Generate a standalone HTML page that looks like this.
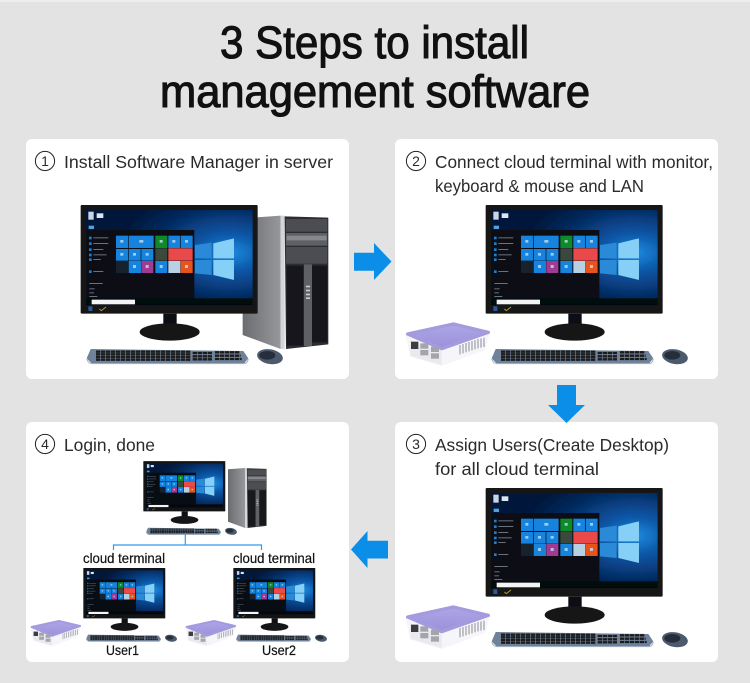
<!DOCTYPE html>
<html lang="en">
<head>
<meta charset="utf-8">
<title>3 Steps to install management software</title>
<style>
html,body{margin:0;padding:0;background:#e3e3e3}
svg{display:block}
text{font-family:"Liberation Sans",sans-serif;fill:#2a2a2a}
.t{font-size:45px;fill:#111;stroke:#111;stroke-width:1.1px}
.l{font-size:17.5px}
.n{font-size:14px;text-anchor:middle}
.s{font-size:14px;fill:#111;stroke:#111;stroke-width:.2px}
</style>
</head>
<body>
<svg xmlns="http://www.w3.org/2000/svg" width="750" height="683" viewBox="0 0 750 683">
<defs>
<filter id="soft" x="-5%" y="-5%" width="110%" height="110%"><feGaussianBlur stdDeviation="1"/></filter>
<radialGradient id="sky" cx="86%" cy="45%" r="68%">
<stop offset="0" stop-color="#1f8ce0"/><stop offset=".3" stop-color="#0a56a6"/><stop offset=".7" stop-color="#052a60"/><stop offset="1" stop-color="#03173a"/>
</radialGradient>
<linearGradient id="side" x1="0" x2="1" y1="0" y2="0"><stop offset="0" stop-color="#6a6c70"/><stop offset="1" stop-color="#96989b"/></linearGradient>
<linearGradient id="lid" x1="0" x2="0" y1="0" y2="1"><stop offset="0" stop-color="#aea6e6"/><stop offset="1" stop-color="#9a91da"/></linearGradient>

<g id="pc">
<rect x="32" y="30" width="531" height="326" rx="3" fill="#131416"/>
<rect x="48" y="45" width="500" height="285" fill="url(#sky)"/>
<polygon points="375,150 425,143 425,190 375,190" fill="#2a8ad8"/>
<polygon points="430,145 492,130 492,190 430,190" fill="#86cff6"/>
<polygon points="375,195 425,195 425,240 375,235" fill="#2a8ad8"/>
<polygon points="430,195 492,195 492,255 430,240" fill="#86cff6"/>
<rect x="48" y="105" width="325" height="205" fill="#080c13"/>
<rect x="48" y="310" width="500" height="20" fill="#05070b"/>
<rect x="65" y="314" width="130" height="14" fill="#f4f4f4"/>
<rect x="55" y="50" width="16" height="24" fill="#c9d6e6"/>
<rect x="80" y="55" width="20" height="14" fill="#dbe6f0"/>
<rect x="56" y="92" width="16" height="10" fill="#4fa3dc"/>
<g fill="#1f7fd0"><rect x="57" y="125" width="8" height="8"/><rect x="57" y="142" width="8" height="8"/><rect x="57" y="160" width="8" height="8"/><rect x="57" y="176" width="8" height="8"/><rect x="57" y="190" width="8" height="8"/><rect x="57" y="226" width="8" height="8"/></g>
<g fill="#6b727b"><rect x="70" y="127" width="45" height="3"/><rect x="70" y="144" width="45" height="3"/><rect x="70" y="162" width="30" height="3"/><rect x="70" y="178" width="40" height="3"/><rect x="70" y="192" width="22" height="3"/><rect x="70" y="228" width="30" height="3"/><rect x="58" y="264" width="40" height="3"/><rect x="58" y="280" width="16" height="3"/><rect x="58" y="292" width="14" height="3"/><rect x="58" y="303" width="24" height="3"/></g>
<g fill="#1283de">
<rect x="138" y="122" width="36" height="37"/><rect x="176" y="122" width="75" height="37"/>
<rect x="138" y="162" width="36" height="35"/><rect x="176" y="162" width="36" height="35"/><rect x="214" y="162" width="36" height="35"/>
<rect x="176" y="198" width="37" height="36"/>
<rect x="295" y="122" width="35" height="37"/><rect x="332" y="122" width="36" height="37"/>
<rect x="256" y="198" width="36" height="36"/>
</g>
<rect x="138" y="198" width="36" height="36" fill="#16222f"/>
<rect x="214" y="198" width="36" height="36" fill="#a03a92"/>
<rect x="256" y="122" width="36" height="37" fill="#0f8a2a"/>
<rect x="256" y="160" width="36" height="37" fill="#3b4a3c"/>
<rect x="295" y="160" width="73" height="37" fill="#ea4a4a"/>
<rect x="295" y="198" width="36" height="36" fill="#b8d0e4"/>
<rect x="332" y="198" width="36" height="36" fill="#e8521c"/>
<g fill="#cfe6f7" opacity=".75"><rect x="151" y="135" width="9" height="8"/><rect x="208" y="135" width="12" height="8"/><rect x="151" y="174" width="9" height="8"/><rect x="189" y="174" width="9" height="8"/><rect x="227" y="174" width="9" height="8"/><rect x="189" y="210" width="9" height="9"/><rect x="227" y="210" width="9" height="9"/><rect x="269" y="135" width="9" height="8"/><rect x="307" y="135" width="9" height="8"/><rect x="345" y="135" width="9" height="8"/><rect x="269" y="210" width="9" height="9"/><rect x="345" y="210" width="9" height="9"/></g>
<rect x="55" y="334" width="12" height="14" fill="#2c5a9a"/><path d="M88 342l6 5 14-11" stroke="#b39a2a" stroke-width="3" fill="none"/>
<rect x="280" y="356" width="40" height="44" fill="#0f1012"/>
<ellipse cx="299" cy="411" rx="90" ry="26" fill="#141517"/>
<polygon points="62,462 520,468 535,490 522,506 65,506 50,490" fill="#6f8299"/>
<g fill="none" stroke="#1a1c1f" stroke-width="7" stroke-dasharray="13 2">
<path d="M78 470H363M78 478H363M78 486H363M78 494H363"/>
<path d="M368 474H428M368 484H428M368 493H428"/>
<path d="M435 472H510M435 482H512M435 492H515"/>
</g>
<path d="M50 492q5 14 16 14h456q10 0 13-14" fill="none" stroke="#a5b5c8" stroke-width="3"/>
<ellipse cx="600" cy="485" rx="39" ry="22" fill="#4b5a6c" transform="rotate(10 600 485)"/>
<ellipse cx="592" cy="481" rx="24" ry="13" fill="#262f3b"/>
</g>

<g id="tower">
<polygon points="518,70 632,62 632,462 518,420" fill="url(#side)"/>
<rect x="632" y="62" width="12" height="400" fill="#d4d5d7"/>
<polygon points="644,64 775,68 775,448 648,462" fill="#2c2d30"/>
<rect x="648" y="72" width="124" height="38" fill="#4c4e52"/>
<rect x="648" y="114" width="124" height="38" fill="#5f6165"/>
<rect x="650" y="122" width="120" height="14" fill="#85878b"/>
<rect x="648" y="156" width="124" height="50" fill="#4c4e52"/>
<rect x="650" y="212" width="50" height="240" fill="#18191b"/>
<rect x="726" y="212" width="46" height="230" fill="#18191b"/>
<rect x="702" y="208" width="24" height="245" fill="#5f6165"/>
<g fill="#c9cbce"><rect x="708" y="272" width="12" height="5"/><rect x="708" y="284" width="12" height="5"/><rect x="708" y="296" width="12" height="5"/><rect x="708" y="307" width="12" height="5"/></g>
</g>

<g id="box">
<polygon points="32,135 45,200 140,228 270,180 286,128" fill="#f6f6fa"/>
<polygon points="38,132 175,102 280,127 140,176" fill="url(#lid)" stroke="#a49bde" stroke-width="10" stroke-linejoin="round"/>
<polygon points="45,150 140,184 140,225 47,198" fill="#e9e9ef"/>
<rect x="48" y="155" width="22" height="22" fill="#3a3d42"/>
<rect x="76" y="160" width="24" height="16" fill="#a3a5aa"/><rect x="76" y="180" width="24" height="16" fill="#a3a5aa"/>
<rect x="108" y="170" width="24" height="16" fill="#a3a5aa"/><rect x="108" y="190" width="24" height="16" fill="#a3a5aa"/>
<g stroke="#8b8d96" stroke-width="3"><path d="M195 165v28M204 162v28M213 159v28M222 156v28M231 153v28M240 150v28M249 147v28M258 145v28M267 143v28"/></g>
</g>
</defs>

<rect width="750" height="683" fill="#e3e3e3"/>
<rect width="750" height="2" fill="#eeeeee"/>

<text x="220" y="58" class="t" textLength="309" lengthAdjust="spacingAndGlyphs">3 Steps to install</text>
<text x="160" y="107" class="t" textLength="430" lengthAdjust="spacingAndGlyphs">management software</text>

<rect x="26" y="139" width="323" height="240" rx="6" fill="#fff"/>
<rect x="395" y="139" width="323" height="240" rx="6" fill="#fff"/>
<rect x="395" y="422" width="323" height="240" rx="6" fill="#fff"/>
<rect x="26" y="422" width="323" height="240" rx="6" fill="#fff"/>

<!-- Panel 1 -->
<circle cx="45" cy="161" r="9.6" fill="none" stroke="#222" stroke-width="1"/>
<text x="45" y="166" class="n">1</text>
<text x="64" y="168" class="l" textLength="269" lengthAdjust="spacingAndGlyphs">Install Software Manager in server</text>
<g filter="url(#soft)" transform="translate(70,195) scale(.3333)"><use href="#tower"/><use href="#pc"/></g>

<!-- Panel 2 -->
<circle cx="416" cy="161" r="9.6" fill="none" stroke="#222" stroke-width="1"/>
<text x="416" y="166" class="n">2</text>
<text x="435" y="168" class="l" textLength="278" lengthAdjust="spacingAndGlyphs">Connect cloud terminal with monitor,</text>
<text x="435" y="192" class="l" textLength="209" lengthAdjust="spacingAndGlyphs">keyboard &amp; mouse and LAN</text>
<g filter="url(#soft)" transform="translate(475,195) scale(.3333)"><use href="#pc"/></g>
<g filter="url(#soft)" transform="translate(395,290) scale(.3333)"><use href="#box"/></g>

<!-- Panel 3 -->
<circle cx="416" cy="444" r="9.6" fill="none" stroke="#222" stroke-width="1"/>
<text x="416" y="449" class="n">3</text>
<text x="435" y="451" class="l" textLength="234" lengthAdjust="spacingAndGlyphs">Assign Users(Create Desktop)</text>
<text x="435" y="475" class="l" textLength="164" lengthAdjust="spacingAndGlyphs">for all cloud terminal</text>
<g filter="url(#soft)" transform="translate(475,478) scale(.3333)"><use href="#pc"/></g>
<g filter="url(#soft)" transform="translate(395,573) scale(.3333)"><use href="#box"/></g>

<!-- Panel 4 -->
<circle cx="45" cy="444" r="9.6" fill="none" stroke="#222" stroke-width="1"/>
<text x="45" y="449" class="n">4</text>
<text x="64" y="451" class="l" textLength="91" lengthAdjust="spacingAndGlyphs">Login, done</text>
<use href="#tower" transform="translate(150.3,458.7) scale(.15)"/>
<use href="#pc" transform="translate(138.4,456.5) scale(.1543)"/>
<path d="M185.3 533V545M113.5 550V545H261.5V550" fill="none" stroke="#2f9bf0" stroke-width="1.2"/>
<text x="83" y="563" class="s" textLength="82" lengthAdjust="spacingAndGlyphs">cloud terminal</text>
<text x="233" y="563" class="s" textLength="82" lengthAdjust="spacingAndGlyphs">cloud terminal</text>
<use href="#pc" transform="translate(78.4,563.4) scale(.1543)"/>
<use href="#pc" transform="translate(228.4,563.4) scale(.1543)"/>
<use href="#box" transform="translate(24,600.6) scale(.2)"/>
<use href="#box" transform="translate(179,600.6) scale(.2)"/>
<text x="106" y="655" class="s" textLength="33" lengthAdjust="spacingAndGlyphs">User1</text>
<text x="262" y="655" class="s" textLength="34" lengthAdjust="spacingAndGlyphs">User2</text>

<!-- Arrows -->
<polygon points="354,252.7 374,252.7 374,243 391.5,261.5 374,280 374,270.7 354,270.7" fill="#0a8ee8"/>
<polygon points="557,385 576,385 576,405 585,405 566.5,423 548,405 557,405" fill="#0a8ee8"/>
<polygon points="388,540.7 367.5,540.7 367.5,531 351,549.5 367.5,568 367.5,558.5 388,558.5" fill="#0a8ee8"/>
</svg>
</body>
</html>
